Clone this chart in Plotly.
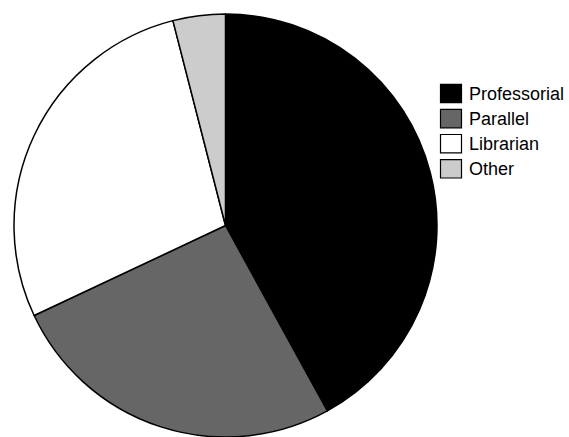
import plotly.graph_objects as go

categories = ["Professorial", "Parallel", "Librarian", "Other"]
values = [42, 26, 28, 4]
colors = ["#000000", "#666666", "#ffffff", "#cccccc"]

W, H = 569, 437

def px_x(x):
    return x / W

def px_y(y):
    return 1 - y / H

fig = go.Figure()
fig.add_trace(go.Pie(
    labels=categories,
    values=values,
    sort=False,
    direction="clockwise",
    rotation=0,
    textinfo="none",
    hoverinfo="label+percent",
    marker=dict(colors=colors, line=dict(color="#000000", width=1.5)),
    domain=dict(x=[px_x(13), px_x(438)], y=[0, px_y(14)]),
    showlegend=False,
))

shapes = []
annotations = []
for i, (name, col) in enumerate(zip(categories, colors)):
    cy = 93.5 + 25.1 * i
    shapes.append(dict(
        type="rect", xref="paper", yref="paper",
        x0=px_x(440.5), x1=px_x(461.5),
        y0=px_y(cy - 9.2), y1=px_y(cy + 9.2),
        fillcolor=col, line=dict(color="#000000", width=1.2),
    ))
    annotations.append(dict(
        x=px_x(467), y=px_y(cy), xref="paper", yref="paper",
        text=name, showarrow=False, xanchor="left", yanchor="middle",
        font=dict(family="Liberation Sans, Arial, sans-serif", size=18, color="#000000"),
    ))

fig.update_layout(
    width=W, height=H,
    margin=dict(l=0, r=0, t=0, b=0),
    paper_bgcolor="#ffffff",
    plot_bgcolor="#ffffff",
    shapes=shapes,
    annotations=annotations,
    showlegend=False,
)

fig.write_html("out.html")
